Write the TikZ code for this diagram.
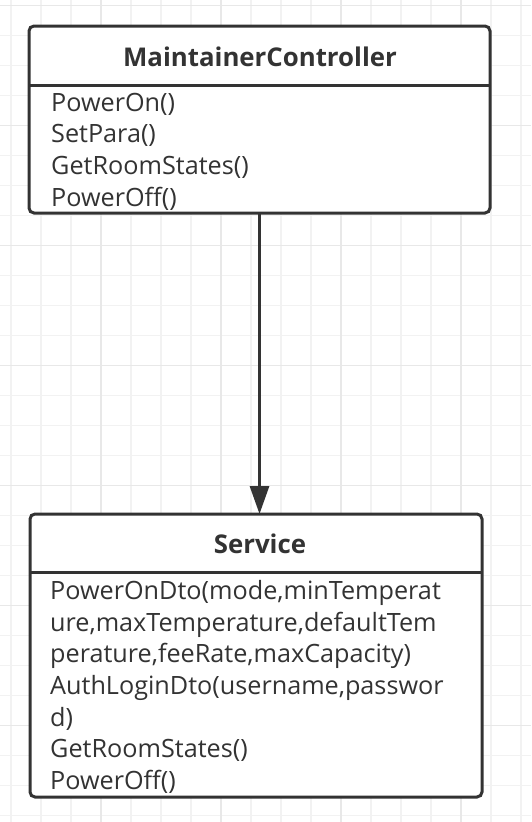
\documentclass[tikz,border=0pt]{standalone}
\usepackage{fontspec}
\setmainfont{Open Sans}
\usetikzlibrary{arrows.meta,positioning,calc}

\definecolor{umlink}{HTML}{333333}
\definecolor{gridlo}{HTML}{F2F2F2}
\definecolor{gridhi}{HTML}{E8E8E8}

\begin{document}
\begin{tikzpicture}[
  x=1pt, y=-1pt,
  classbox/.style={draw=umlink, line width=3pt, rounded corners=5pt,
    fill=white, outer sep=0pt, inner sep=0pt},
  divline/.style={draw=umlink, line width=3pt},
  headtxt/.style={font=\fontsize{25.8}{30}\selectfont\bfseries, text=umlink,
    inner sep=0pt},
  bodytxt/.style={font=\fontsize{25.2}{30}\selectfont, text=umlink,
    inner sep=0pt},
  arr/.style={-{Triangle[length=28pt,width=19pt]}, line width=3pt, draw=umlink},
  gridminor/.style={draw=gridlo, line width=1.5pt},
  gridmajor/.style={draw=gridhi, line width=1.5pt}
]
  \useasboundingbox (0,0) rectangle (531,822);
  \fill[white] (0,0) rectangle (531,822);

  % background grid
  \foreach \gx in {11,41,...,521} \draw[gridminor] (\gx,0) -- (\gx,822);
  \foreach \gy in {5.7,35.7,...,822} \draw[gridminor] (0,\gy) -- (531,\gy);
  \foreach \gx in {101,221,341,461} \draw[gridmajor] (\gx,0) -- (\gx,822);
  \foreach \gy in {5.7,125.7,...,822} \draw[gridmajor] (0,\gy) -- (531,\gy);

  % MaintainerController
  \node[classbox, anchor=north west, minimum width=461pt, minimum height=187pt]
    (mc) at (29,26) {};
  \draw[divline] (mc.west |- 0,85.5) -- (mc.east |- 0,85.5);
  \node[headtxt, anchor=base] (mctitle) at (260,66) {MaintainerController};
  \foreach \txt [count=\i] in {PowerOn(),SetPara(),GetRoomStates(),PowerOff()}
    \node[bodytxt, anchor=base west] (mcop\i) at (51,{111+31.7*(\i-1)}) {\txt};

  % Service
  \node[classbox, anchor=north west, minimum width=452pt, minimum height=283pt]
    (srv) at (30,514) {};
  \draw[divline] (srv.west |- 0,572.5) -- (srv.east |- 0,572.5);
  \node[headtxt, anchor=base] (srvtitle) at (260,553) {Service};
  \foreach \txt [count=\i] in {{PowerOnDto(mode,minTemperat},
      {ure,maxTemperature,defaultTem},{perature,feeRate,maxCapacity)},
      {AuthLoginDto(username,passwor},d),GetRoomStates(),PowerOff()}
    \node[bodytxt, anchor=base west] (srvop\i) at (50,{599.3+31.7*(\i-1)}) {\txt};

  \draw[arr] (mc.south) -- (mc.south |- srv.north);
\end{tikzpicture}
\end{document}
